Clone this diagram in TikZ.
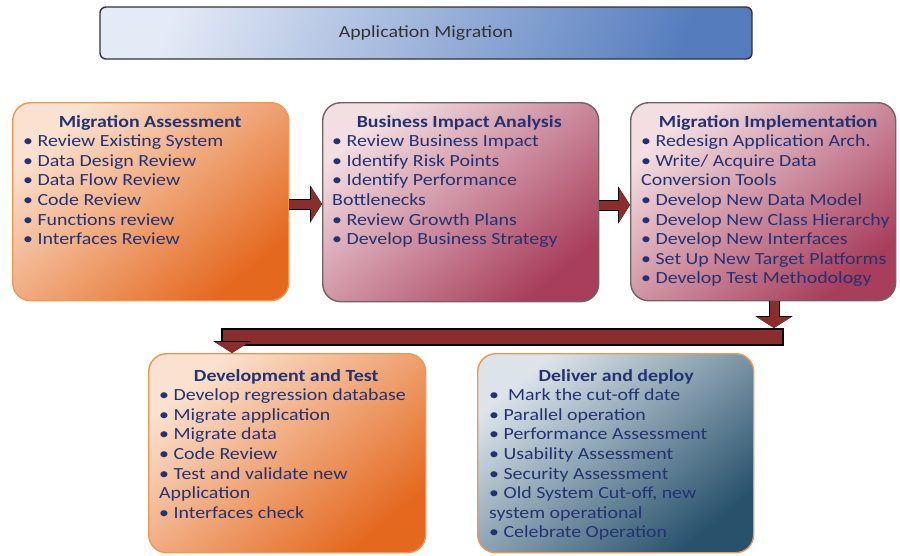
\documentclass[tikz,border=0pt]{standalone}
\usepackage{fontspec}
\setmainfont{Carlito}[FakeStretch=1.17]
\usetikzlibrary{arrows.meta}
\definecolor{txt}{RGB}{35,50,115}
\definecolor{orL}{RGB}{251,226,208}
\definecolor{orM}{RGB}{243,165,110}
\definecolor{orD}{RGB}{228,104,30}
\definecolor{orB}{RGB}{240,150,80}
\definecolor{pkL}{RGB}{243,222,226}
\definecolor{pkM}{RGB}{214,150,166}
\definecolor{pkD}{RGB}{168,62,92}
\definecolor{pkB}{RGB}{110,100,100}
\definecolor{blL}{RGB}{220,228,234}
\definecolor{blM}{RGB}{140,165,180}
\definecolor{blD}{RGB}{40,82,108}
\definecolor{tiL}{RGB}{228,234,246}
\definecolor{tiD}{RGB}{85,125,190}
\definecolor{arr}{RGB}{140,45,45}
\tikzset{
  box/.style={rounded corners=18pt, line width=1.4pt, anchor=north west},
  orbox/.style={box, draw=orB, top color=orL, middle color=orM, bottom color=orD, shading angle=40},
  pkbox/.style={box, draw=pkB, top color=pkL, middle color=pkM, bottom color=pkD, shading angle=40},
  blbox/.style={box, draw=orB, top color=blL, middle color=blM, bottom color=blD, shading angle=40},
  txtnode/.style={anchor=north west, inner sep=0pt, align=left, text=txt,
    font=\fontsize{17}{19.6}\selectfont},
  blockarrow/.style={draw=arr, line width=9pt,
    -{Triangle[width=34pt,length=11pt]},
    preaction={draw=black, line width=11pt, -{Triangle[width=37pt,length=12pt]}}},
  barstyle/.style={fill=arr, draw=black, line width=1.2pt}
}
\newcommand{\hd}[1]{\makebox[254pt][c]{\bfseries #1}}
\begin{document}
\begin{tikzpicture}[x=1pt,y=-1pt]
\useasboundingbox[fill=white] (0,0) rectangle (900,555);

% title
\node (title) [draw=black!80, line width=1.4pt, rounded corners=6pt,
  top color=tiL, bottom color=tiD, shading angle=70,
  minimum width=652pt, minimum height=52pt,
  font=\fontsize{17}{19}\selectfont, text=black!80] at (426,33) {Application Migration};

% boxes
\node (b1) [orbox, minimum width=276pt, minimum height=198pt] at (12,102) {};
\node (b2) [pkbox, minimum width=276pt, minimum height=199pt] at (322,102) {};
\node (b3) [pkbox, minimum width=265pt, minimum height=198pt] at (630,102) {};
\node (b4) [orbox, minimum width=277pt, minimum height=199pt] at (148,353) {};
\node (b5) [blbox, minimum width=276pt, minimum height=199pt] at (477,353) {};

% texts
\node (t1) [txtnode] at (23,115) {\hd{Migration Assessment}\\
• Review Existing System\\
• Data Design Review\\
• Data Flow Review\\
• Code Review\\
• Functions review\\
• Interfaces Review};

\node (t2) [txtnode] at (332,115) {\hd{Business Impact Analysis}\\
• Review Business Impact\\
• Identify Risk Points\\
• Identify Performance\\
Bottlenecks\\
• Review Growth Plans\\
• Develop Business Strategy};

\node (t3) [txtnode] at (641,115) {\hd{Migration Implementation}\\
• Redesign Application Arch.\\
• Write/ Acquire Data\\
Conversion Tools\\
• Develop New Data Model\\
• Develop New Class Hierarchy\\
• Develop New Interfaces\\
• Set Up New Target Platforms\\
• Develop Test Methodology};

\node (t4) [txtnode] at (159,369) {\hd{Development and Test}\\
• Develop regression database\\
• Migrate application\\
• Migrate data\\
• Code Review\\
• Test and validate new\\
Application\\
• Interfaces check};

\node (t5) [txtnode] at (489,369) {\hd{Deliver and deploy}\\
• \ Mark the cut-off date\\
• Parallel operation\\
• Performance Assessment\\
• Usability Assessment\\
• Security Assessment\\
• Old System Cut-off, new\\
system operational\\
• Celebrate Operation};

% connectors
\draw[blockarrow] (b1.east |- 0,204) -- (b2.west |- 0,204);
\draw[blockarrow] (b2.east |- 0,205) -- (b3.west |- 0,205);

\coordinate (j1) at (774,328);
\coordinate (barR) at (783,329);
\coordinate (barL) at (222,345);
\coordinate (j2) at (232,345);
\draw[barstyle] (barL) rectangle (barR);
\draw[blockarrow] (b3.south -| j1) -- (j1);
\draw[blockarrow] (j2) -- (j2 |- b4.north);
\end{tikzpicture}
\end{document}
